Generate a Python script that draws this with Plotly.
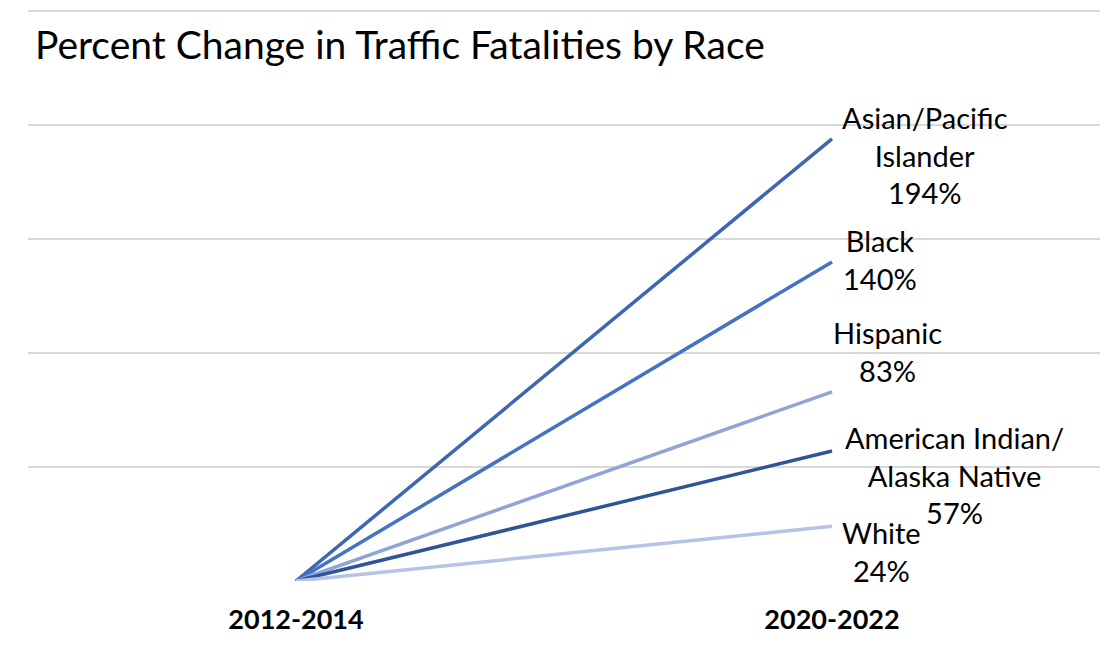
import plotly.graph_objects as go

periods = ["2012-2014", "2020-2022"]
groups = ["Asian/Pacific Islander", "Black", "Hispanic", "American Indian/Alaska Native", "White"]
label_texts = ["Asian/Pacific<br>Islander<br>194%", "Black<br>140%", "Hispanic<br>83%",
               "American Indian/<br>Alaska Native<br>57%", "White<br>24%"]
start_values = [0, 0, 0, 0, 0]
pct_change = [194, 140, 83, 57, 24]

colors = ["#3d67b2", "#4472c4", "#8fa5d8", "#2f5597", "#b4c3e6"]
label_shift = [(93, -16), (48, 2), (55, 40), (122, -24), (49, -25)]

FONT = "Lato"

fig = go.Figure()
for g, s, e, c in zip(groups, start_values, pct_change, colors):
    fig.add_trace(go.Scatter(x=periods, y=[s, e], mode="lines", name=g,
                             line=dict(color=c, width=3.5), showlegend=False,
                             hoverinfo="skip"))

for g, e, t, (dx, dy) in zip(groups, pct_change, label_texts, label_shift):
    fig.add_annotation(x=periods[1], y=e, text=t, showarrow=False,
                       xanchor="center", yanchor="middle", align="center",
                       xshift=dx, yshift=dy,
                       font=dict(family=FONT, size=29, color="#000000"))

fig.update_layout(
    width=1106, height=647,
    paper_bgcolor="white", plot_bgcolor="white",
    margin=dict(l=28, r=6, t=10, b=66),
    title=dict(text="Percent Change in Traffic Fatalities by Race",
               xref="container", yref="container", x=35/1106, y=1-45/647,
               xanchor="left", yanchor="middle",
               font=dict(family=FONT, size=39, color="#000000")),
    xaxis=dict(type="category", showgrid=False, zeroline=False, showline=False,
               ticks="", ticklabelstandoff=20,
               tickfont=dict(family=FONT, size=27, color="#000000", weight="bold"),
               range=[-0.5, 1.5]),
    yaxis=dict(range=[0, 250.5], tickvals=[0, 50, 100, 150, 200, 250],
               showticklabels=False, showgrid=True,
               gridcolor="#d9d9d9", gridwidth=1.5, zeroline=False, showline=False,
               ticks=""),
)

fig.write_html("out.html")
